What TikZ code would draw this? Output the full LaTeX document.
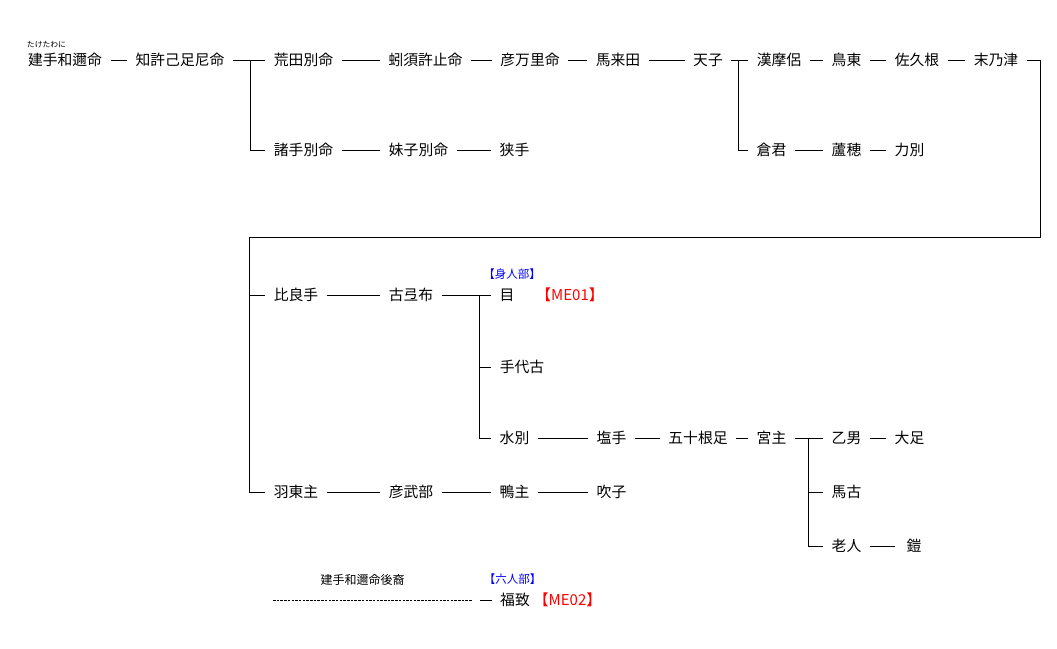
\documentclass[tikz,border=0pt]{standalone}
\usepackage{fontspec}
\setmainfont{Noto Sans CJK JP}
\newfontfamily\jp{Noto Sans CJK JP}
\begin{document}
\begin{tikzpicture}[x=1pt,y=-1pt,
  nm/.style={inner xsep=8.5pt,inner ysep=0pt,outer sep=0pt,font=\jp\fontsize{14.8}{16}\selectfont,text height=12pt,text depth=2pt},
  sm/.style={inner sep=0pt,font=\jp\fontsize{11.5}{12}\selectfont,text height=9pt,text depth=1.5pt},
  tag/.style={inner sep=0pt,font=\jp\fontsize{15}{17}\selectfont,text=red,text height=12pt,text depth=2pt},
  ln/.style={line width=0.8pt,black},
  dl/.style={line width=0.8pt,black,dash pattern=on 2.5pt off 1.2pt}]
\useasboundingbox (0,0) rectangle (1057,648);
% row 1
\node[nm] (a1) at (65,60) {建手和邇命};
\node[inner sep=0pt,font=\jp\fontsize{7.8}{8}\selectfont] (ruby) at (46.5,45) {たけたわに};
\node[nm] (a2) at (180,60) {知許己足尼命};
\node[nm] (a3) at (303.5,60) {荒田別命};
\node[nm] (a4) at (425.5,60) {蚓須許止命};
\node[nm] (a5) at (530,60) {彦万里命};
\node[nm] (a6) at (618,60) {馬来田};
\node[nm] (a7) at (708,60) {天子};
\node[nm] (a8) at (779,60) {漢摩侶};
\node[nm] (a9) at (846.5,60) {鳥東};
\node[nm] (a10) at (917,60) {佐久根};
\node[nm] (a11) at (996,60) {末乃津};
% row 2
\node[nm] (b1) at (303.5,150) {諸手別命};
\node[nm] (b2) at (418.5,150) {妹子別命};
\node[nm] (b3) at (514.5,150) {狭手};
\node[nm] (b4) at (771.5,150) {倉君};
\node[nm] (b5) at (846.5,150) {蘆穂};
\node[nm] (b6) at (909.5,150) {力別};
% row 3
\node[nm] (c1) at (296,295) {比良手};
\node[nm] (c2) at (411,295) {古弖布};
\node[nm] (c3) at (507,295) {目};
\node[tag] (me1) at (570,295) {【ME01】};
\node[sm,text=blue] (mi) at (512,275) {【身人部】};
\node[nm] (d1) at (522,367) {手代古};
\node[nm] (f1) at (514.5,438) {水別};
\node[nm] (f2) at (611.5,438) {塩手};
\node[nm] (f3) at (698,438) {五十根足};
\node[nm] (f4) at (771.5,438) {宮主};
\node[nm] (f5) at (846.5,438) {乙男};
\node[nm] (f6) at (909.5,438) {大足};
\node[nm] (e1) at (296,492) {羽東主};
\node[nm] (e2) at (411,492) {彦武部};
\node[nm] (e3) at (514.5,492) {鴨主};
\node[nm] (e4) at (611.5,492) {吹子};
\node[nm] (g1) at (846.5,492) {馬古};
\node[nm] (h1) at (846.5,546) {老人};
\node[nm,inner xsep=12pt] (h2) at (914,546) {鎧};
% bottom
\node[inner sep=0pt,font=\jp\fontsize{12}{13}\selectfont] (kou) at (362.5,580) {建手和邇命後裔};
\node[sm,text=blue] (roku) at (512.5,580) {【六人部】};
\node[nm] (fk) at (515,600) {福致};
\node[tag] (me2) at (567.5,600) {【ME02】};
% junction coordinates
\coordinate (j1) at (250,60);
\coordinate (j2) at (738,60);
\coordinate (k1) at (1040,60);
\coordinate (k2) at (249,237);
\coordinate (j3) at (479,295);
\coordinate (j4) at (808,438);
\coordinate (ds) at (273,600);
\coordinate (de) at (472,600);
\coordinate (ss) at (480,600);
% connectors row 1
\draw[ln] (a1) -- (a2);
\draw[ln] (a2) -- (a3);
\draw[ln] (a3) -- (a4);
\draw[ln] (a4) -- (a5);
\draw[ln] (a5) -- (a6);
\draw[ln] (a6) -- (a7);
\draw[ln] (a7) -- (a8);
\draw[ln] (a8) -- (a9);
\draw[ln] (a9) -- (a10);
\draw[ln] (a10) -- (a11);
\draw[ln] (j1) |- (b1.west);
\draw[ln] (b1) -- (b2);
\draw[ln] (b2) -- (b3);
\draw[ln] (j2) |- (b4.west);
\draw[ln] (b4) -- (b5);
\draw[ln] (b5) -- (b6);
% long link
\draw[ln] (a11.east) -- (k1) |- (k2) |- (e1.west);
\draw[ln] (k2 |- c1.west) -- (c1.west);
\draw[ln] (c1) -- (c2);
\draw[ln] (c2) -- (c3);
\draw[ln] (j3) |- (d1.west);
\draw[ln] (j3) |- (f1.west);
\draw[ln] (f1) -- (f2);
\draw[ln] (f2) -- (f3);
\draw[ln] (f3) -- (f4);
\draw[ln] (f4) -- (f5);
\draw[ln] (f5) -- (f6);
\draw[ln] (j4) |- (g1.west);
\draw[ln] (j4) |- (h1.west);
\draw[ln] (h1) -- (h2);
\draw[ln] (e1) -- (e2);
\draw[ln] (e2) -- (e3);
\draw[ln] (e3) -- (e4);
\draw[dl] (ds) -- (de);
\draw[ln] (ss) -- (fk.west);
\end{tikzpicture}
\end{document}
